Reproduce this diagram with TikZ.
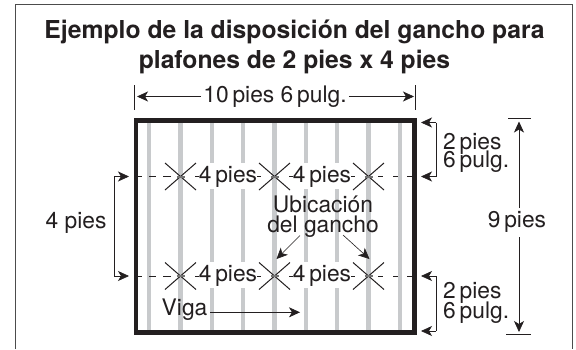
\documentclass[tikz,border=0pt]{standalone}
\usepackage{fontspec}
\setmainfont{TeX Gyre Heros}
\usetikzlibrary{arrows.meta}
\definecolor{ink}{HTML}{231F20}
\definecolor{beam}{HTML}{C8CACC}
\newcommand{\lblfont}{\fontsize{22.8}{20}\selectfont\lineskiplimit -20pt\relax}
\tikzset{
  x=1pt,y=-1pt,
  lbl/.style={inner sep=0pt,text=ink,font=\lblfont,align=left},
  ttl/.style={inner sep=0pt,text=ink,font=\fontsize{24.7}{30}\selectfont\bfseries,align=center},
  dim/.style={ink,line width=0.7pt,-{Stealth[length=11pt,width=10pt,inset=3pt]}},
  tick/.style={ink,line width=0.7pt},
  beamline/.style={beam,line width=4.5pt},
  hookline/.style={ink,line width=0.8pt},
  crossline/.style={ink,line width=1pt},
  crosscentre/.style={black!55,line width=2pt},
}
\begin{document}
\begin{tikzpicture}
\useasboundingbox (0,0) rectangle (576,349);
\fill[white] (0,0) rectangle (576,349);
\draw[black!70,line width=1pt] (15.5,349) -- (15.5,4.5) -- (572.5,4.5) -- (572.5,349);
\node[ttl] (title) at (294.5,47) {Ejemplo de la disposición del gancho para\\plafones de 2 pies x 4 pies};
% beams
\foreach \x in {149,180.5,274.5,368.5,400} \draw[beamline] (\x,123) -- (\x,330);
\foreach \x in {212,243,306,337} {
  \draw[beamline] (\x,123) -- (\x,163);
  \draw[beamline] (\x,189) -- (\x,262);
  \draw[beamline] (\x,288) -- (\x,330);
}
% hook lines
\foreach \y in {176.5,276} {
  \draw[hookline] (137,\y) -- (142,\y) (149,\y) -- (156,\y) (163,\y) -- (171,\y);
  \draw[hookline] (378,\y) -- (383,\y) (393,\y) -- (398,\y) (407,\y) -- (412,\y);
  \foreach \x in {180.5,274.5,368.5} {
    \draw[crossline] (\x-15.5,\y-13.5) -- (\x+15.5,\y+13.5);
    \draw[crossline] (\x-15.5,\y+13.5) -- (\x+15.5,\y-13.5);
    \draw[crosscentre] (\x-4,\y) -- (\x+4,\y);
  }
  \draw[ink,line width=0.8pt] (195,\y) -- (199,\y) (257,\y) -- (261,\y) (289,\y) -- (293,\y) (351,\y) -- (355,\y);
  \node[lbl] (a\y) at (228,\y) {4\,pies};
  \node[lbl] (b\y) at (322,\y) {4\,pies};
}
% ceiling frame
\draw[ink,line width=4.6pt] (136,120.5) rectangle (414.5,332.5);
% top dimension
\coordinate (tl1) at (134.5,85); \coordinate (tl2) at (134.5,110);
\coordinate (tr1) at (415.5,85); \coordinate (tr2) at (415.5,110);
\draw[tick] (tl1) -- (tl2);
\draw[tick] (tr1) -- (tr2);
\node[lbl] (width) at (275,96.5) {10\,pies 6\,pulg.};
\draw[dim] (width.west)++(-2,0) -- (137,96.5);
\draw[dim] (width.east)++(2,0) -- (414,96.5);
% left dimension
\node[lbl] (four) at (76,223) {4 pies};
\coordinate (lt) at (129,176.5); \coordinate (lb) at (129,276);
\draw[dim] (114,176.5) -- (lt);
\draw[dim] (114,276) -- (lb);
\draw[tick] (114,176.5) -- (114,276);
% right small dimensions
\coordinate (ra) at (421,122.5); \coordinate (rb) at (421,176.5);
\coordinate (rc) at (421,276); \coordinate (rd) at (421,331);
\draw[dim] (436,122.5) -- (ra);
\draw[dim] (436,176.5) -- (rb);
\draw[tick] (436,122.5) -- (436,176.5);
\draw[dim] (436,276) -- (rc);
\draw[dim] (436,331) -- (rd);
\draw[tick] (436,276) -- (436,331);
\node[lbl,anchor=west] (s1) at (443,153) {2\,pies\\[-2pt]6\,pulg.};
\node[lbl,anchor=west] (s2) at (443,302.5) {2\,pies\\6\,pulg.};
% nine feet
\node[lbl] (nine) at (517,222) {9\,pies};
\coordinate (nt) at (519,121.5); \coordinate (nb) at (519,332);
\draw[tick] (508,118.5) -- (531,118.5);
\draw[tick] (506,334.5) -- (531,334.5);
\draw[dim] (519,208) -- (nt);
\draw[dim] (519,237) -- (nb);
% hook note
\node[lbl,align=center] (note) at (323,216.5) {Ubicación\\del gancho};
\coordinate (h1) at (276.5,259); \coordinate (h2) at (369.5,259);
\draw[dim,line width=0.6pt] (300,235.5) -- (h1);
\draw[dim,line width=0.6pt] (343,235) -- (h2);
% Viga
\node[lbl] (viga) at (184.5,310) {Viga};
\coordinate (vg) at (300,312.3);
\draw[dim] (210,312.3) -- (vg);
\end{tikzpicture}
\end{document}
